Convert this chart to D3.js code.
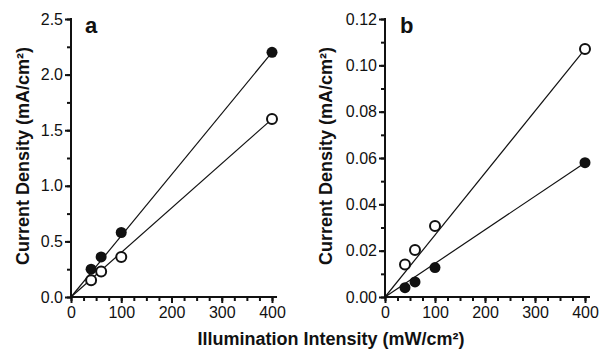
<!DOCTYPE html>
<html>
<head>
<meta charset="utf-8">
<script src="https://d3js.org/d3.v7.min.js"></script>
<style>
  body { margin: 0; background: #fff; }
  text { font-family: "Liberation Sans", Arial, sans-serif; fill: #111; }
</style>
</head>
<body>
<script>
// light intensity (mW/cm2)
var intensity = [40, 60, 100, 400];

// panel a current density (mA/cm2)
var aFilled = [0.25, 0.36, 0.58, 2.2];
var aOpen = [0.15, 0.23, 0.36, 1.6];
// panel b current density (mA/cm2)
var bFilled = [0.004, 0.0065, 0.0127, 0.058];
var bOpen = [0.014, 0.0203, 0.0306, 0.107];

// linear fits through origin, value at 0 and 400
var fitX = [0, 400];
var aFilledFit = [0, 2.2];
var aOpenFit = [0, 1.6];
var bFilledFit = [0, 0.058];
var bOpenFit = [0, 0.107];

var xTicks = [0, 100, 200, 300, 400];
var aYTicks = [0, 0.5, 1.0, 1.5, 2.0, 2.5];
var bYTicks = [0, 0.02, 0.04, 0.06, 0.08, 0.10, 0.12];

var W = 601, H = 357;
var svg = d3.select("body").append("svg").attr("width", W).attr("height", H);

function panel(opt) {
  var g = svg.append("g");
  var x = d3.scaleLinear().domain([0, 400]).range(opt.xr);
  var y = d3.scaleLinear().domain(opt.yd).range([297, 19]);

  // minor ticks
  g.append("g").attr("transform", "translate(0,297)")
    .call(d3.axisBottom(x).tickValues(d3.range(0, 401, 25)).tickSize(4).tickFormat(""));
  g.append("g").attr("transform", "translate(" + opt.xr[0] + ",0)")
    .call(d3.axisLeft(y).tickValues(d3.range(0, opt.yd[1] + 1e-9, opt.minor)).tickSize(4).tickFormat(""));
  // major ticks
  g.append("g").attr("transform", "translate(0,297)")
    .call(d3.axisBottom(x).tickValues(xTicks).tickSize(6).tickPadding(4).tickFormat(d3.format("d")));
  g.append("g").attr("transform", "translate(" + opt.xr[0] + ",0)")
    .call(d3.axisLeft(y).tickValues(opt.yTicks).tickSize(6).tickPadding(2).tickFormat(d3.format(opt.fmt)));

  g.selectAll(".domain").remove();
  g.selectAll(".tick line").attr("stroke", "#111").attr("stroke-width", 2);
  g.selectAll(".tick text").attr("font-size", 16).attr("fill", "#222")
    .style("font-family", "'Liberation Sans', Arial, sans-serif");

  // axis lines
  g.append("line").attr("x1", x(0)).attr("x2", x(410)).attr("y1", 297).attr("y2", 297)
    .attr("stroke", "#111").attr("stroke-width", 2);
  g.append("line").attr("x1", x(0)).attr("x2", x(0)).attr("y1", y(0) + 1).attr("y2", y(opt.yd[1]) - 1)
    .attr("stroke", "#111").attr("stroke-width", 2);

  // fit lines
  var line = d3.line().x(function (d) { return x(d[0]); }).y(function (d) { return y(d[1]); });
  [opt.fitFilled, opt.fitOpen].forEach(function (f) {
    g.append("path").datum(fitX.map(function (v, i) { return [v, f[i]]; }))
      .attr("d", line).attr("fill", "none").attr("stroke", "#111").attr("stroke-width", 1.2);
  });

  // markers
  g.selectAll(".filled").data(opt.filled).enter().append("circle")
    .attr("cx", function (d, i) { return x(intensity[i]); })
    .attr("cy", function (d) { return y(d); })
    .attr("r", 5.5).attr("fill", "#111");
  g.selectAll(".open").data(opt.open).enter().append("circle")
    .attr("cx", function (d, i) { return x(intensity[i]); })
    .attr("cy", function (d) { return y(d); })
    .attr("r", 5).attr("fill", "#fff").attr("stroke", "#111").attr("stroke-width", 2);

  // panel letter
  g.append("text").attr("x", opt.xr[0] + opt.letterDx).attr("y", 33)
    .attr("font-size", 22).attr("font-weight", "bold").text(opt.letter);

  // y title
  var t = g.append("text").attr("transform", "translate(" + opt.titleX + ",156) rotate(-90)")
    .attr("text-anchor", "middle").attr("font-size", 18).attr("font-weight", "bold");
  t.text("Current Density (mA/cm²)");
}

panel({ xr: [71, 272], yd: [0, 2.5], minor: 0.25, yTicks: aYTicks, fmt: ".1f",
  filled: aFilled, open: aOpen, fitFilled: aFilledFit, fitOpen: aOpenFit,
  letter: "a", letterDx: 14, titleX: 29 });
panel({ xr: [385, 585], yd: [0, 0.12], minor: 0.01, yTicks: bYTicks, fmt: ".2f",
  filled: bFilled, open: bOpen, fitFilled: bFilledFit, fitOpen: bOpenFit,
  letter: "b", letterDx: 15, titleX: 332 });

svg.append("text").attr("x", 331).attr("y", 345).attr("text-anchor", "middle")
  .attr("font-size", 18).attr("font-weight", "bold")
  .text("Illumination Intensity (mW/cm²)");
</script>
</body>
</html>
